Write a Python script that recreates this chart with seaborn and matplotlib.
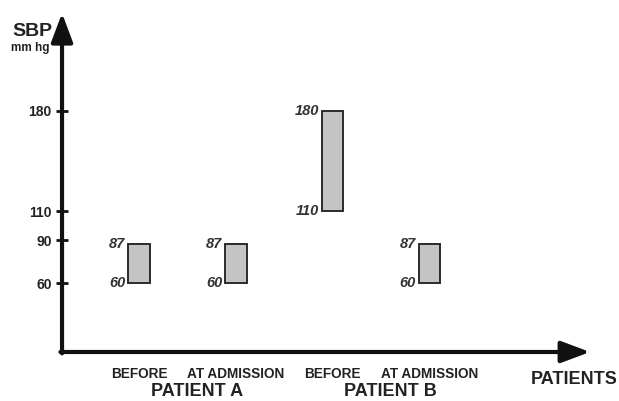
import matplotlib
matplotlib.use('Agg')

import matplotlib.pyplot as plt
import seaborn as sns
import pandas as pd

# ================= DATA =================
bar_keys = ["A_before", "A_admission", "B_before", "B_admission"]
bar_labels = ["BEFORE", "AT ADMISSION", "BEFORE", "AT ADMISSION"]
sbp_low = [60, 60, 110, 60]
sbp_high = [87, 87, 180, 87]
group_names = ["PATIENT A", "PATIENT B"]
y_ticks = [60, 90, 110, 180]

df = pd.DataFrame({"key": bar_keys, "low": sbp_low, "high": sbp_high})
df["span"] = df["high"] - df["low"]

# ================= STYLE =================
sns.set_theme(style="white")
plt.rcParams["font.family"] = ["Liberation Sans", "DejaVu Sans"]
plt.rcParams["font.weight"] = "bold"

fig = plt.figure(figsize=(6.19, 4.01), dpi=100)
ax = fig.add_axes([0.1002, 0.1222, 0.853, 0.845])

bar_w = 0.222
sns.barplot(data=df, x="key", y="span", bottom=df["low"], width=bar_w,
            color="#c4c4c4", saturation=1, edgecolor="#2b2b2b", linewidth=1.4,
            errorbar=None, ax=ax)

ax.set_xlim(-0.795, 4.66)
ax.set_ylim(12, 248)

# axes drawn as arrows
for sp in ax.spines.values():
    sp.set_visible(False)
arrow = dict(arrowstyle="-|>,head_length=0.8,head_width=0.3", lw=3,
             mutation_scale=22, color="#111111", shrinkA=0, shrinkB=0)
ax.annotate("", xy=(0, 1), xytext=(0, -0.004), xycoords="axes fraction",
            arrowprops=arrow, annotation_clip=False)
ax.annotate("", xy=(1, 0), xytext=(-0.003, 0), xycoords="axes fraction",
            arrowprops=arrow, annotation_clip=False)

# y ticks
ax.set_yticks(y_ticks)
ax.set_yticklabels([str(v) for v in y_ticks], fontsize=10, fontweight="bold", color="#222222")
ax.tick_params(axis="y", direction="inout", length=9, width=2, color="#111111",
               left=True, pad=3)

# x labels
ax.set_xticks(range(len(bar_keys)))
ax.set_xticklabels(bar_labels, fontsize=9.8, fontweight="bold", color="#222222")
ax.tick_params(axis="x", length=0, pad=11)
ax.set_xlabel("")
ax.set_ylabel("")

for i, name in enumerate(group_names):
    ax.text(2 * i + 0.6, -0.118, name, transform=ax.get_xaxis_transform(),
            ha="center", va="center", fontsize=13, fontweight="bold", color="#222222")

# value labels
for i, row in df.iterrows():
    for val in (row["low"], row["high"]):
        ax.annotate(str(val), xy=(i - bar_w / 2, val), xytext=(-2, 0),
                    textcoords="offset points", ha="right", va="center",
                    fontsize=10.5, fontweight="bold", fontstyle="italic", color="#333333")

fig.text(574 / 619, 1 - 380 / 401, "PATIENTS", ha="center", va="center",
         fontsize=13, fontweight="bold", color="#222222")
fig.text(32 / 619, 1 - 31 / 401, "SBP", ha="center", va="center",
         fontsize=14, fontweight="bold", color="#222222")
fig.text(30 / 619, 1 - 48 / 401, "mm hg", ha="center", va="center",
         fontsize=8.5, fontweight="bold", color="#222222")

fig.savefig("out.png", dpi=100)
plt.close(fig)
